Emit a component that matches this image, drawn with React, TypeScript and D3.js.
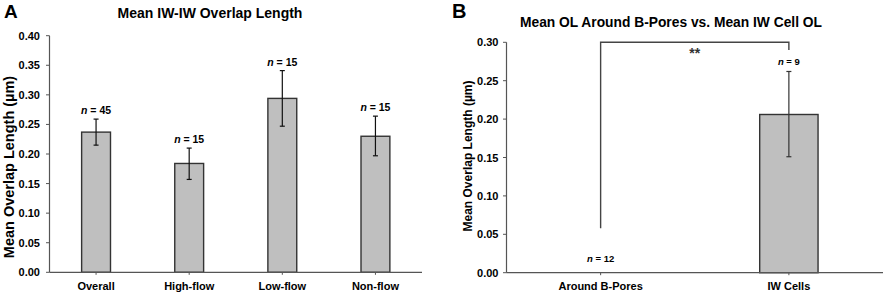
import React from "react";
import * as d3 from "d3";

const catsA = ["Overall", "High-flow", "Low-flow", "Non-flow"];
const meansA = [0.237, 0.184, 0.294, 0.230];
const errHiA = [0.259, 0.210, 0.341, 0.264];
const errLoA = [0.215, 0.157, 0.247, 0.197];
const nA = [45, 15, 15, 15];
const ticksA = [0, 0.05, 0.1, 0.15, 0.2, 0.25, 0.3, 0.35, 0.4];

const catsB = ["Around B-Pores", "IW Cells"];
const meansB = [0, 0.206];
const errHiB: (number | null)[] = [null, 0.262];
const errLoB: (number | null)[] = [null, 0.151];
const nB = [12, 9];
const ticksB = [0, 0.05, 0.1, 0.15, 0.2, 0.25, 0.3];
const bracketB = { leftBottom: 0.058, top: 0.3, rightBottom: 0.29 };

const FONT = "'Liberation Sans', Arial, sans-serif";
const BAR_FILL = "#bfbfbf";
const BAR_STROKE = "#333";
const AXIS = "#555";

export default function App() {
  // Panel A
  const xA = d3.scaleBand<string>().domain(catsA).range([49.5, 422]).paddingInner(0.69).paddingOuter(0.345);
  const yA = d3.scaleLinear().domain([0, 0.4]).range([272.3, 35.7]);
  // Panel B
  const xB = d3.scaleBand<string>().domain(catsB).range([506.5, 883]).paddingInner(0.69).paddingOuter(0.345);
  const yB = d3.scaleLinear().domain([0, 0.3]).range([272.7, 42.3]);

  const cA = (c: string) => (xA(c) as number) + xA.bandwidth() / 2;
  const cB = (c: string) => (xB(c) as number) + xB.bandwidth() / 2;

  return (
    <svg width={886} height={294} style={{ position: "absolute", left: 0, top: 0, background: "#fff" }} fontFamily={FONT}>
      {/* Panel A */}
      <text x={4} y={17.5} fontSize={19} fontWeight="bold">A</text>
      <text x={210} y={18} fontSize={14} fontWeight="bold" textAnchor="middle">Mean IW-IW Overlap Length</text>
      <text transform={`translate(14,167) rotate(-90)`} fontSize={14.5} fontWeight="bold" textAnchor="middle">Mean Overlap Length (µm)</text>
      {ticksA.map((t) => (
        <g key={t}>
          <line x1={46} x2={49.5} y1={yA(t)} y2={yA(t)} stroke={AXIS} />
          <text x={40} y={yA(t) + 4} fontSize={11} fontWeight="bold" textAnchor="end">{t.toFixed(2)}</text>
        </g>
      ))}
      {catsA.map((c, i) => (
        <g key={c}>
          <rect x={xA(c)} y={yA(meansA[i])} width={xA.bandwidth()} height={yA(0) - yA(meansA[i])} fill={BAR_FILL} stroke={BAR_STROKE} strokeWidth={1.4} />
          <line x1={cA(c)} x2={cA(c)} y1={yA(errHiA[i])} y2={yA(errLoA[i])} stroke="#111" strokeWidth={1.2} />
          <line x1={cA(c) - 2.5} x2={cA(c) + 2.5} y1={yA(errHiA[i])} y2={yA(errHiA[i])} stroke="#111" strokeWidth={1.2} />
          <line x1={cA(c) - 2.5} x2={cA(c) + 2.5} y1={yA(errLoA[i])} y2={yA(errLoA[i])} stroke="#111" strokeWidth={1.2} />
          <text x={cA(c)} y={yA(errHiA[i]) - 5} fontSize={10.5} fontWeight="bold" textAnchor="middle">
            <tspan fontStyle="italic">n</tspan> = {nA[i]}
          </text>
          <line x1={cA(c)} x2={cA(c)} y1={yA(0)} y2={yA(0) + 2.5} stroke={AXIS} />
          <text x={cA(c)} y={290} fontSize={11} fontWeight="bold" textAnchor="middle">{c}</text>
        </g>
      ))}
      <line x1={49.5} x2={49.5} y1={yA(0.4)} y2={yA(0)} stroke={AXIS} strokeWidth={1.2} />
      <line x1={49.5} x2={422} y1={yA(0)} y2={yA(0)} stroke={AXIS} strokeWidth={1.2} />

      {/* Panel B */}
      <text x={452} y={17.5} fontSize={20} fontWeight="bold">B</text>
      <text x={671} y={27} fontSize={13.8} fontWeight="bold" textAnchor="middle">Mean OL Around B-Pores vs. Mean IW Cell OL</text>
      <text transform={`translate(472,156) rotate(-90)`} fontSize={12} fontWeight="bold" textAnchor="middle">Mean Overlap Length (µm)</text>
      {ticksB.map((t) => (
        <g key={t}>
          <line x1={503} x2={506.5} y1={yB(t)} y2={yB(t)} stroke={AXIS} />
          <text x={498.5} y={yB(t) + 4} fontSize={11} fontWeight="bold" textAnchor="end">{t.toFixed(2)}</text>
        </g>
      ))}
      {catsB.map((c, i) => {
        const hi = errHiB[i];
        const lo = errLoB[i];
        return (
          <g key={c}>
            {meansB[i] > 0 && (
              <rect x={xB(c)} y={yB(meansB[i])} width={xB.bandwidth()} height={yB(0) - yB(meansB[i])} fill={BAR_FILL} stroke={BAR_STROKE} strokeWidth={1.4} />
            )}
            {hi !== null && lo !== null && (
              <g>
                <line x1={cB(c)} x2={cB(c)} y1={yB(hi)} y2={yB(lo)} stroke="#333" strokeWidth={1.2} />
                <line x1={cB(c) - 2.5} x2={cB(c) + 2.5} y1={yB(hi)} y2={yB(hi)} stroke="#333" strokeWidth={1.2} />
                <line x1={cB(c) - 2.5} x2={cB(c) + 2.5} y1={yB(lo)} y2={yB(lo)} stroke="#333" strokeWidth={1.2} />
              </g>
            )}
            <text x={cB(c)} y={hi !== null ? yB(hi) - 6 : yB(0) - 11} fontSize={9.5} fontWeight="bold" textAnchor="middle">
              <tspan fontStyle="italic">n</tspan> = {nB[i]}
            </text>
            <line x1={cB(c)} x2={cB(c)} y1={yB(0)} y2={yB(0) + 2.5} stroke={AXIS} />
            <text x={cB(c)} y={290} fontSize={11} fontWeight="bold" textAnchor="middle">{c}</text>
          </g>
        );
      })}
      <path
        d={`M${cB(catsB[0])},${yB(bracketB.leftBottom)} V${yB(bracketB.top)} H${cB(catsB[1])} V${yB(bracketB.rightBottom)}`}
        fill="none"
        stroke="#444"
        strokeWidth={1.4}
      />
      <text x={(cB(catsB[0]) + cB(catsB[1])) / 2} y={58} fontSize={14} fontWeight="bold" fill="#333" textAnchor="middle">**</text>
      <line x1={506.5} x2={506.5} y1={yB(0.3)} y2={yB(0)} stroke={AXIS} strokeWidth={1.2} />
      <line x1={506.5} x2={883} y1={yB(0)} y2={yB(0)} stroke={AXIS} strokeWidth={1.2} />
    </svg>
  );
}
